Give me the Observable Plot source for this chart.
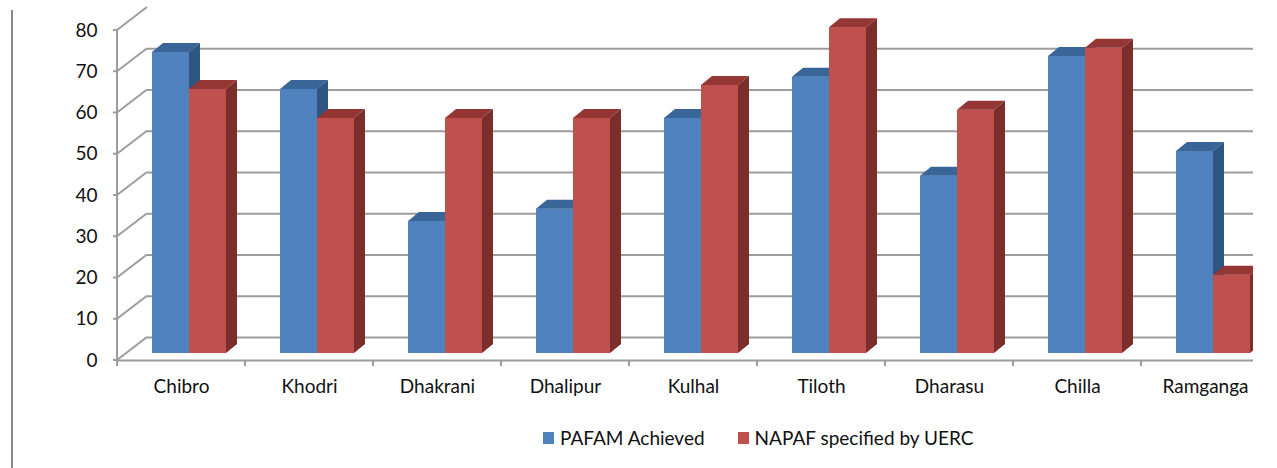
<!DOCTYPE html>
<html>
<head>
<meta charset="utf-8">
<script src="https://cdn.jsdelivr.net/npm/d3@7"></script>
<script src="https://cdn.jsdelivr.net/npm/@observablehq/plot@0.6"></script>
<style>
  html, body { margin: 0; padding: 0; background: #fff; }
  #wrap { position: relative; width: 1277px; height: 468px; overflow: hidden; font-family: Lato, "Open Sans", sans-serif; }
  #frameLine { position: absolute; left: 11px; top: 10px; width: 2px; height: 458px; background: #8a8a8a; }
  #chart { position: absolute; left: 0; top: 0; width: 1253px; height: 410px; overflow: hidden; }
  #chart svg { max-width: none !important; width: 1277px; height: 410px; }
  #legend { position: absolute; top: 426px; left: 543px; display: flex; align-items: center; font-size: 19px; color: #111; white-space: nowrap; }
  #legend .sw { display: inline-block; width: 11px; height: 12px; margin-right: 6px; }
  #legend .item { display: flex; align-items: center; margin-right: 33px; }
</style>
</head>
<body>
<div id="wrap">
  <div id="frameLine"></div>
  <div id="chart"></div>
  <div id="legend"></div>
</div>
<script>
const categories = ["Chibro", "Khodri", "Dhakrani", "Dhalipur", "Kulhal", "Tiloth", "Dharasu", "Chilla", "Ramganga"];
const pafamAchieved = [73, 64, 32, 35, 57, 67, 43, 72, 49];
const napafUERC = [64, 57, 57, 57, 65, 79, 59, 74, 19];
const seriesNames = ["PAFAM Achieved", "NAPAF specified by UERC"];
const yTicks = [0, 10, 20, 30, 40, 50, 60, 70, 80];

const colors = {
  blue: {front: "#4F81BD", top: "#3A6598", side: "#2F5583"},
  red: {front: "#C0504D", top: "#943634", side: "#7C2E2C"}
};

const blueData = categories.map((c, i) => ({category: c, value: pafamAchieved[i]}));
const redData = categories.map((c, i) => ({category: c, value: napafUERC[i]}));

// 3D geometry (pixel offsets)
const barShift = {dx: 9, dy: -7};
const wallShift = {dx: 30, dy: -23};
const depth = {dx: 11, dy: -9};
const blueInset = {left: 26, right: 65};
const redInset = {left: 63, right: 28};

const chart = Plot.plot({
  width: 1277,
  height: 410,
  marginLeft: 117,
  marginRight: 24,
  marginTop: 5,
  marginBottom: 50,
  style: {fontFamily: "Lato, 'Open Sans', sans-serif", fontSize: "19px", color: "#111", background: "transparent", maxWidth: "none"},
  x: {type: "band", domain: categories, range: [117, 1269], padding: 0, tickSize: 0, tickPadding: 19, label: null},
  y: {domain: [0, 80], range: [360, 30], ticks: yTicks, tickSize: 0, tickPadding: 20, label: null, tickFormat: d => String(d)},
  marks: [
    Plot.ruleY(yTicks.filter(v => v < 80), {y: d => d, dx: wallShift.dx, dy: wallShift.dy, stroke: "#9c9c9c", strokeWidth: 2}),
    Plot.ruleY([0], {stroke: "#9c9c9c", strokeWidth: 2}),
    Plot.barY(blueData, {x: "category", y: "value", fill: colors.blue.front, insetLeft: blueInset.left, insetRight: blueInset.right, dx: barShift.dx, dy: barShift.dy}),
    Plot.barY(redData, {x: "category", y: "value", fill: colors.red.front, insetLeft: redInset.left, insetRight: redInset.right, dx: barShift.dx, dy: barShift.dy})
  ]
});

chart.style.maxWidth = "none";
document.getElementById("chart").appendChild(chart);

// 3D faces and frame lines, from the plot's own scales
const sx = chart.scale("x"), sy = chart.scale("y");
const X = v => sx.apply(v), Y = v => sy.apply(v);
const bw = sx.bandwidth;
const svg = d3.select(chart);
const barGroups = chart.querySelectorAll('g[aria-label="bar"]');

function addFaces(data, inset, col, afterNode) {
  const g = document.createElementNS("http://www.w3.org/2000/svg", "g");
  const sel = d3.select(g);
  for (const d of data) {
    const x0 = X(d.category) + inset.left + barShift.dx;
    const x1 = X(d.category) + bw - inset.right + barShift.dx;
    const yT = Y(d.value) + barShift.dy;
    const yB = Y(0) + barShift.dy;
    sel.append("polygon")
      .attr("points", [[x0, yT], [x1, yT], [x1 + depth.dx, yT + depth.dy], [x0 + depth.dx, yT + depth.dy]].map(p => p.join(",")).join(" "))
      .attr("fill", col.top);
    sel.append("polygon")
      .attr("points", [[x1, yT], [x1 + depth.dx, yT + depth.dy], [x1 + depth.dx, yB + depth.dy], [x1, yB]].map(p => p.join(",")).join(" "))
      .attr("fill", col.side);
  }
  afterNode.parentNode.insertBefore(g, afterNode.nextSibling);
}
// blue faces right after blue bars (below red bars), red faces after red bars
addFaces(blueData, blueInset, colors.blue, barGroups[0]);
addFaces(redData, redInset, colors.red, barGroups[1]);

const frame = svg.append("g").attr("stroke", "#9c9c9c").attr("stroke-width", 2).attr("fill", "none");
const xLeft = X(categories[0]);
// left wall diagonals and y ticks
for (const v of yTicks) {
  frame.append("line").attr("x1", xLeft).attr("y1", Y(v)).attr("x2", xLeft + wallShift.dx).attr("y2", Y(v) + wallShift.dy);
  frame.append("line").attr("x1", xLeft - 4).attr("y1", Y(v)).attr("x2", xLeft).attr("y2", Y(v));
}
// front vertical axis
frame.append("line").attr("x1", xLeft).attr("y1", Y(0)).attr("x2", xLeft).attr("y2", Y(80));
// category boundary ticks
for (const c of categories) {
  frame.append("line").attr("x1", X(c)).attr("y1", Y(0)).attr("x2", X(c)).attr("y2", Y(0) + 6);
}

// legend
const legend = document.getElementById("legend");
[[seriesNames[0], colors.blue.front], [seriesNames[1], colors.red.front]].forEach(([name, col]) => {
  const item = document.createElement("div");
  item.className = "item";
  const sw = document.createElement("span");
  sw.className = "sw";
  sw.style.background = col;
  item.appendChild(sw);
  item.appendChild(document.createTextNode(name));
  legend.appendChild(item);
});
</script>
</body>
</html>
